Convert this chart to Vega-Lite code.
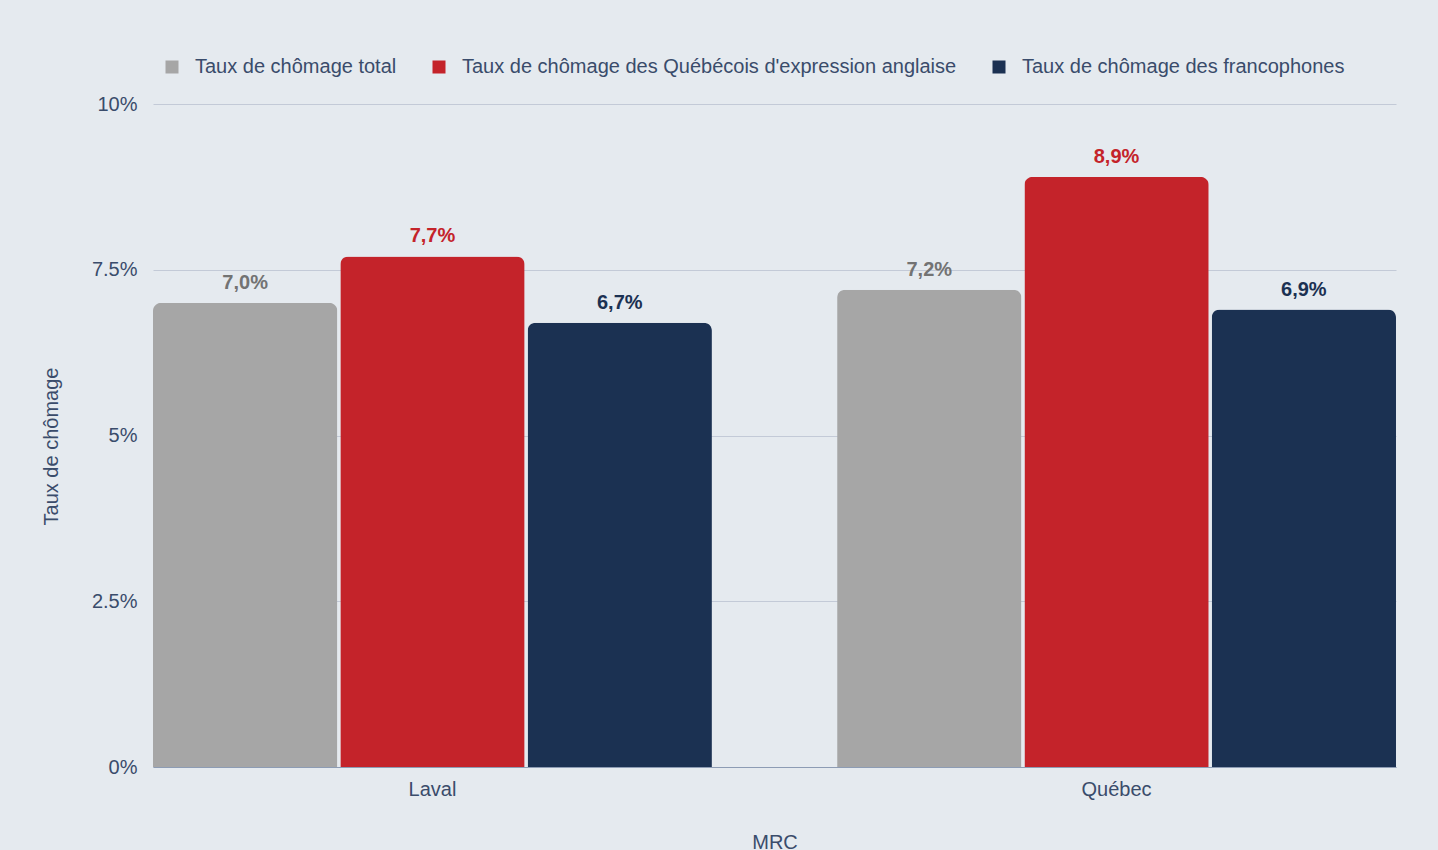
{
  "$schema": "https://vega.github.io/schema/vega-lite/v6.json",
  "autosize": "none",
  "width": 1243,
  "height": 663,
  "padding": {"left": 153, "top": 104, "right": 42, "bottom": 83},
  "background": "#e5eaef",
  "config": {
    "font": "Liberation Sans",
    "view": {"stroke": null},
    "axis": {"labelFont": "Liberation Sans", "titleFont": "Liberation Sans", "labelColor": "#3a4c6b", "titleColor": "#3a4c6b", "labelFontSize": 20, "titleFontSize": 20, "titleFontWeight": "normal"},
    "legend": {"labelFont": "Liberation Sans", "labelFontSize": 20, "labelColor": "#3a4c6b", "labelLimit": 0}
  },
  "data": {
    "values": [
      {"mrc": "Laval", "serie": "Taux de chômage total", "taux": 7.0},
      {"mrc": "Laval", "serie": "Taux de chômage des Québécois d'expression anglaise", "taux": 7.7},
      {"mrc": "Laval", "serie": "Taux de chômage des francophones", "taux": 6.7},
      {"mrc": "Québec", "serie": "Taux de chômage total", "taux": 7.2},
      {"mrc": "Québec", "serie": "Taux de chômage des Québécois d'expression anglaise", "taux": 8.9},
      {"mrc": "Québec", "serie": "Taux de chômage des francophones", "taux": 6.9}
    ]
  },
  "transform": [
    {"calculate": "replace(format(datum.taux, '.1f'), '.', ',') + '%'", "as": "etiquette"}
  ],
  "encoding": {
    "x": {
      "field": "mrc", "type": "nominal", "title": "MRC",
      "scale": {"paddingInner": 0.183, "paddingOuter": 0},
      "axis": {"labelAngle": 0, "ticks": false, "domainColor": "#8d9cb4", "domainWidth": 1, "labelPadding": 12, "titlePadding": 33, "grid": false}
    },
    "xOffset": {
      "field": "serie", "type": "nominal",
      "sort": ["Taux de chômage total", "Taux de chômage des Québécois d'expression anglaise", "Taux de chômage des francophones"],
      "scale": {"paddingInner": 0.016, "paddingOuter": 0}
    },
    "y": {
      "field": "taux", "type": "quantitative", "title": "Taux de chômage",
      "scale": {"domain": [0, 10]},
      "axis": {"values": [0, 2.5, 5, 7.5, 10], "labelExpr": "datum.value + '%'", "domain": false, "ticks": false, "labelPadding": 16, "titlePadding": 30, "titleY": 342, "gridColor": "#c3cad7", "gridWidth": 1}
    }
  },
  "layer": [
    {
      "mark": {"type": "bar", "cornerRadiusTopLeft": 8, "cornerRadiusTopRight": 8},
      "encoding": {
        "color": {
          "field": "serie", "type": "nominal",
          "sort": ["Taux de chômage total", "Taux de chômage des Québécois d'expression anglaise", "Taux de chômage des francophones"],
          "scale": {"range": ["#a6a6a6", "#c4232a", "#1b3152"]},
          "legend": {"title": null, "orient": "none", "legendX": 9, "legendY": -47, "direction": "horizontal", "symbolType": "square", "symbolSize": 169, "symbolStrokeWidth": 0, "labelOffset": 13, "columnPadding": 32}
        }
      }
    },
    {
      "mark": {"type": "text", "baseline": "bottom", "dy": -10, "fontSize": 20, "fontWeight": "bold"},
      "encoding": {
        "text": {"field": "etiquette"},
        "color": {
          "field": "serie", "type": "nominal",
          "sort": ["Taux de chômage total", "Taux de chômage des Québécois d'expression anglaise", "Taux de chômage des francophones"],
          "scale": {"range": ["#737373", "#c4232a", "#1b3152"]},
          "legend": null
        }
      }
    }
  ],
  "resolve": {"scale": {"color": "independent"}}
}
